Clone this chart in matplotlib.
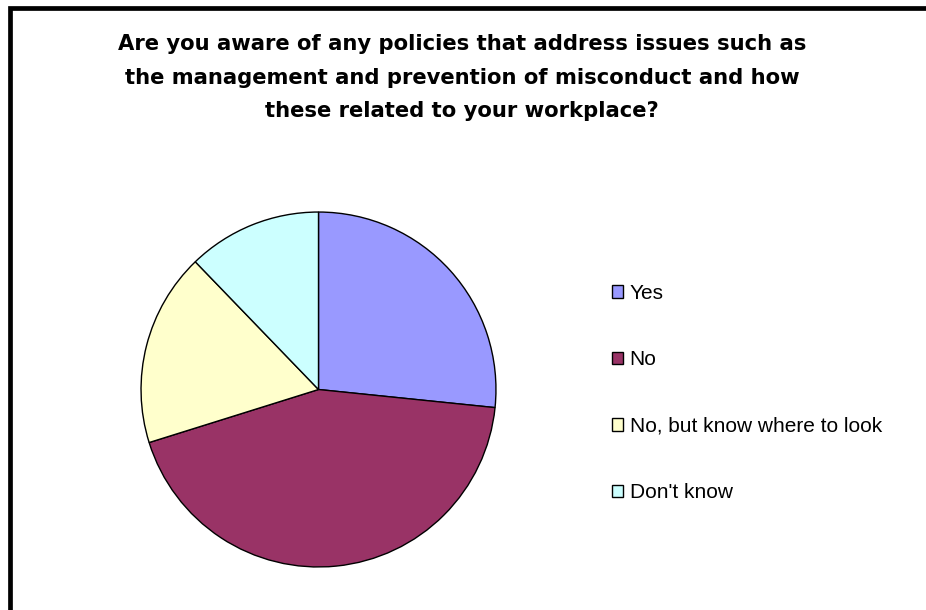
import matplotlib
matplotlib.use("Agg")
import matplotlib.pyplot as plt
from matplotlib.patches import Patch, Rectangle

plt.rcParams['font.family'] = ['Liberation Sans', 'DejaVu Sans']

# survey answers (percent of respondents)
labels = ["Yes", "No", "No, but know where to look", "Don't know"]
shares = [26.6, 43.5, 17.6, 12.2]
colors = ["#9999FF", "#993366", "#FFFFCC", "#CCFFFF"]

title = ("Are you aware of any policies that address issues such as\n"
         "the management and prevention of misconduct and how\n"
         "these related to your workplace?")

W, H = 926, 610
fig = plt.figure(figsize=(W / 100, H / 100), dpi=100)

# pie area in pixels: centre (318.5, 389.5), radius 178
cx, cy, r = 318.5, 389.5, 178
ax = fig.add_axes([(cx - r) / W, (H - cy - r) / H, 2 * r / W, 2 * r / H])
wedges, _ = ax.pie(shares, colors=colors, startangle=90, counterclock=False,
                   wedgeprops=dict(edgecolor="black", linewidth=1.0))
ax.set_xlim(-1.003, 1.003)
ax.set_ylim(-1.003, 1.003)
ax.set_aspect("equal")

fig.text(462 / W, 1 - 77.5 / H, title, ha="center", va="center",
         family="DejaVu Sans", fontsize=15.2, fontweight="bold",
         linespacing=1.82)

handles = [Patch(facecolor=c, edgecolor="black", linewidth=1.0) for c in colors]
fig.legend(handles, labels, loc="center left",
           bbox_to_anchor=(612 / W, 1 - 393 / H), frameon=False,
           fontsize=15, handlelength=0.55, handleheight=0.55,
           handletextpad=0.3, labelspacing=2.28, borderpad=0, borderaxespad=0)

# chart frame, only the top and left edges fall inside the image
fig.add_artist(Rectangle((10.3 / W, -0.1), 1.2, 1.1 - 7.5 / H,
                         transform=fig.transFigure, fill=False,
                         edgecolor="black", linewidth=3.4))

fig.savefig("out.png", dpi=100)
